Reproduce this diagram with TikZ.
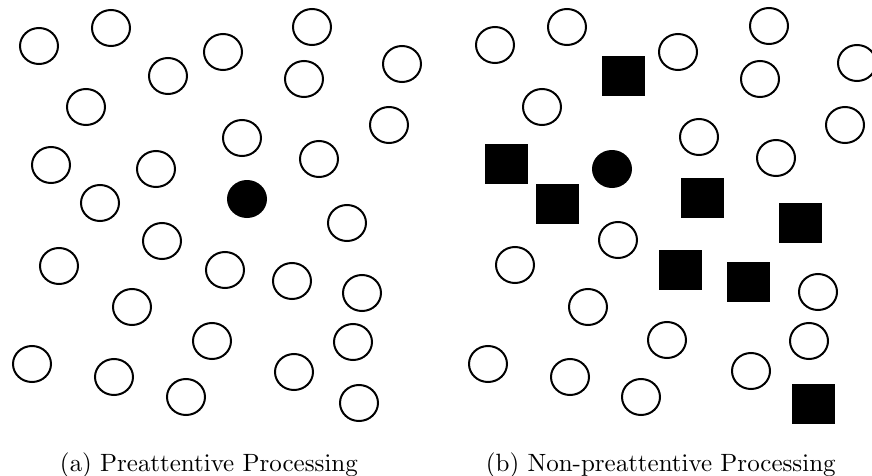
\documentclass[tikz,border=0pt]{standalone}
\usetikzlibrary{shapes.geometric}
\font\capfont=cmr10 at 25pt
\begin{document}
\begin{tikzpicture}[x=1pt,y=-1pt,
  ring/.style={ellipse,draw=black,line width=2pt,minimum width=38pt,minimum height=36pt,inner sep=0pt},
  dot/.style={ellipse,fill=black,minimum width=40pt,minimum height=38pt,inner sep=0pt},
  blk/.style={rectangle,fill=black,minimum width=43pt,minimum height=40pt,inner sep=0pt},
  captext/.style={font=\capfont,inner sep=0pt,anchor=base}]
\useasboundingbox (0,0) rectangle (872,476);
\clip (0,0) rectangle (872,476);
% panel (a)
\foreach \x/\y [count=\i] in {39/46,111/28,168/76,86/107,51/165,156/169,100/203,223/52,312/27,304/79,402/64,242/138,389/125,319/159,347/223,162/241,59/266,132/307,225/270,212/341,32/364,114/377,186/397,292/281,362/293,353/342,294/372,359/403}
  \node[ring] (a\i) at (\x,\y) {};
\node[dot] (atarget) at (247,199) {};
% panel (b)
\foreach \x/\y [count=\i] in {495/45,567/27,542/107,678/52,769/26,760/79,857/63,699/137,845/125,776/158,618/240,515/265,588/307,488/364,570/377,641/397,818/292,667/340,809/341,751/371}
  \node[ring] (b\i) at (\x,\y) {};
\node[dot] (btarget) at (612,169) {};
\foreach \x/\y [count=\i] in {623/76,506/164,557/204,702/198,800/223,680/270,748/282,813/404}
  \node[blk] (s\i) at (\x,\y) {};
% captions
\node[captext] (capa) at (209,471) {(a) Preattentive Processing};
\node[captext] (capb) at (661,471) {(b) Non-preattentive Processing};
\end{tikzpicture}
\end{document}
